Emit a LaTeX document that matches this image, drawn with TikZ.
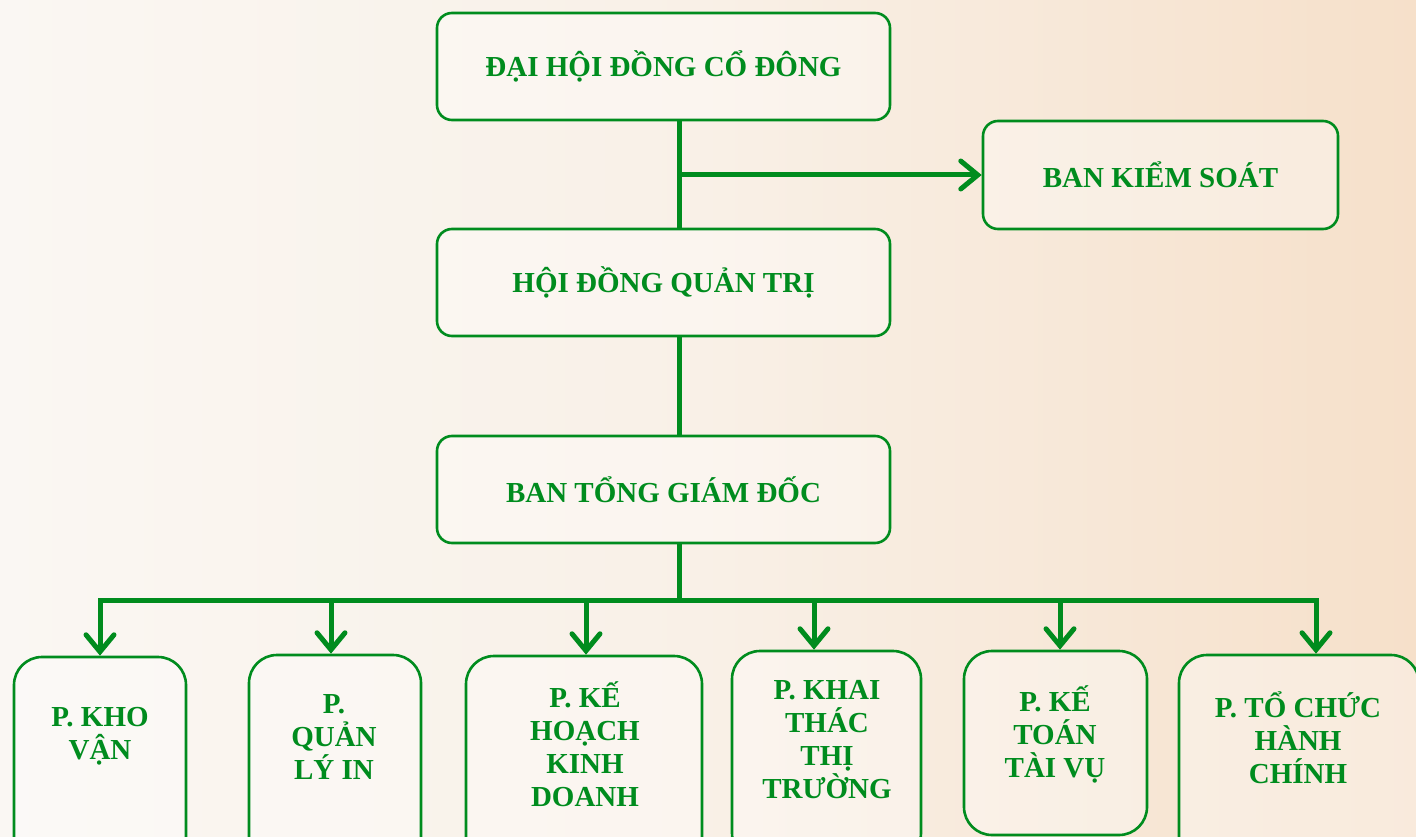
\documentclass[tikz,border=0pt]{standalone}
\usepackage{fontspec}
\setmainfont{Liberation Serif}
\usetikzlibrary{arrows.meta,shapes.misc}
\definecolor{orggreen}{RGB}{0,140,30}
\definecolor{bgleft}{RGB}{250,247,243}
\definecolor{bgright}{RGB}{246,224,202}
\tikzset{
  orgbox/.style={draw=orggreen, line width=2.6pt, rounded corners=15pt, fill=white, fill opacity=0.35, text opacity=1, inner sep=0pt},
  deptbox/.style={orgbox, rounded corners=28pt},
  orgtext/.style={text=orggreen, font=\fontsize{29}{33}\selectfont\bfseries, align=center, inner sep=0pt},
  link/.style={draw=orggreen, line width=5pt, line cap=rect},
  arrowlink/.style={link, -{Straight Barb[length=17pt, width=28pt, line cap=round]}}
}
\begin{document}
\begin{tikzpicture}[x=1pt, y=-1pt]
\useasboundingbox (0,0) rectangle (1416,837);
\clip (0,0) rectangle (1416,837);
\shade[left color=bgleft, right color=bgright, middle color=bgleft!70!bgright] (0,0) rectangle (1416,837);

% top boxes
\node[orgbox, minimum width=453pt, minimum height=107pt] (dh) at (663.5,66.5) {};
\node[orgtext] at (dh) {ĐẠI HỘI ĐỒNG CỔ ĐÔNG};
\node[orgbox, minimum width=355pt, minimum height=108pt] (bks) at (1160.5,175) {};
\node[orgtext] at (bks) {BAN KIỂM SOÁT};
\node[orgbox, minimum width=453pt, minimum height=107pt] (hd) at (663.5,282.5) {};
\node[orgtext] at (hd) {HỘI ĐỒNG QUẢN TRỊ};
\node[orgbox, minimum width=453pt, minimum height=107pt] (tgd) at (663.5,489.5) {};
\node[orgtext] at (tgd) {BAN TỔNG GIÁM ĐỐC};

% department boxes (extend beyond bottom edge)
\node[deptbox, minimum width=172pt, minimum height=210pt] (kho) at (100,762) {};
\node[orgtext] at (100,736) {P. KHO\\VẬN};
\node[deptbox, minimum width=172pt, minimum height=210pt] (ql) at (335,760) {};
\node[orgtext] at (334,737) {P.\\QUẢN\\LÝ IN};
\node[deptbox, minimum width=236pt, minimum height=210pt] (kh) at (584,761) {};
\node[orgtext] at (585,744) {P. KẾ\\HOẠCH\\KINH\\DOANH};
\node[deptbox, minimum width=189pt, minimum height=210pt] (kt) at (826.5,756) {};
\node[orgtext] at (827,740) {P. KHAI\\THÁC\\THỊ\\TRƯỜNG};
\node[deptbox, minimum width=183pt, minimum height=184pt] (tv) at (1055.5,743) {};
\node[orgtext] at (1055,734) {P. KẾ\\TOÁN\\TÀI VỤ};
\node[deptbox, minimum width=240pt, minimum height=210pt] (tc) at (1299,760) {};
\node[orgtext] at (1298,738) {P. TỔ CHỨC\\HÀNH\\CHÍNH};

% connectors
\coordinate (j1) at (679,175);
\coordinate (bus) at (679,600);
\coordinate (a1) at (100,600);
\coordinate (a2) at (331,600);
\coordinate (a3) at (586,600);
\coordinate (a4) at (814,600);
\coordinate (a5) at (1060,600);
\coordinate (a6) at (1316,600);

\draw[link, line cap=butt] (j1 |- dh.south) -- (j1 |- hd.north);
\draw[arrowlink, line cap=butt] (j1) -- (bks.west);
\draw[link, line cap=butt] (j1 |- hd.south) -- (j1 |- tgd.north);
\draw[link] (j1 |- tgd.south) -- (bus);
\draw[link] (a1) -- (a6);
\draw[arrowlink] (a1) -- (a1 |- kho.north);
\draw[arrowlink] (a2) -- (a2 |- ql.north);
\draw[arrowlink] (a3) -- (a3 |- kh.north);
\draw[arrowlink] (a4) -- (a4 |- kt.north);
\draw[arrowlink] (a5) -- (a5 |- tv.north);
\draw[arrowlink] (a6) -- (a6 |- tc.north);
\end{tikzpicture}
\end{document}
